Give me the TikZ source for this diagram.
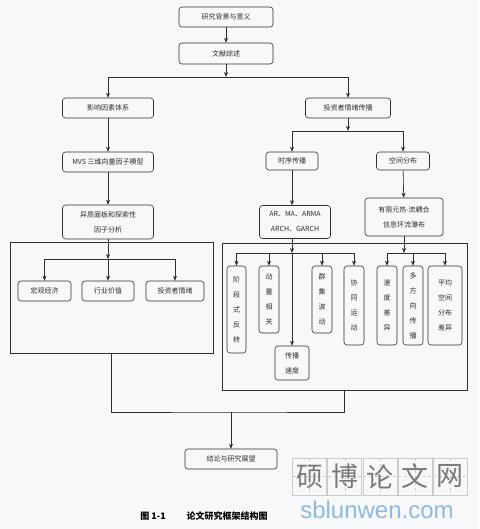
\documentclass[tikz,border=0pt]{standalone}
\usepackage{fontspec}
\setmainfont{Noto Sans CJK SC}
\newfontfamily\latinsans{Liberation Sans}
\usetikzlibrary{arrows.meta, calc}
\definecolor{ink}{HTML}{2E2E2E}
\definecolor{paper}{HTML}{F6F8F9}
\definecolor{markgrey}{HTML}{7A7A7A}
\definecolor{markblue}{HTML}{8CB9E6}
\definecolor{gridgrey}{HTML}{C9CCCE}

\begin{document}
\begin{tikzpicture}[x=1pt, y=-1pt,
  box/.style={draw=ink, line width=0.6pt, rounded corners=3pt, inner sep=0pt, align=center, text=ink, font=\fontsize{7}{15}\selectfont},
  frame/.style={draw=ink, line width=0.6pt, inner sep=0pt},
  arr/.style={draw=ink, line width=0.6pt, -{Stealth[length=5pt, width=4pt]}},
  link/.style={draw=ink, line width=0.6pt}]
  % page
  \fill[paper] (0,0) rectangle (479,529);

  % main column
  \node[box, minimum width=94, minimum height=20] (intro) at (226,17) {研究背景与意义};
  \node[box, minimum width=94, minimum height=21] (review) at (226,53.5) {文献综述};
  \node[box, minimum width=91, minimum height=20] (factors) at (108,108) {影响因素体系};
  \node[box, minimum width=85, minimum height=20] (spread) at (348,108) {投资者情绪传播};
  \coordinate (jtop) at (226,77);
  \draw[arr] (intro) -- (review);
  \draw[arr] (review) -- (jtop);
  \draw[arr] (jtop) -| (factors);
  \draw[arr] (jtop) -| (spread);

  % left branch
  \node[box, minimum width=91, minimum height=20] (mvs) at (108,162) {MVS 三维向量因子模型};
  \node[box, minimum width=91, minimum height=34] (panel) at (108,222) {异质面板和探索性\\因子分析};
  \draw[arr] (factors) -- (mvs);
  \draw[arr] (mvs) -- (panel);
  \node[frame, minimum width=203, minimum height=111] (lframe) at (111.5,297.5) {};
  \node[box, minimum width=53, minimum height=20] (macro) at (44.5,291) {宏观经济};
  \node[box, minimum width=52, minimum height=20] (industry) at (108,291) {行业价值};
  \node[box, minimum width=58, minimum height=20] (mood) at (175,291) {投资者情绪};
  \coordinate (jleft) at (108,259);
  \draw[arr] (panel) -- (jleft);
  \draw[arr] (jleft) -| (macro);
  \draw[arr] (jleft) -- (industry);
  \draw[arr] (jleft) -| (mood);

  % right branch
  \coordinate (jright) at (348,131);
  \node[box, minimum width=52, minimum height=18] (timing) at (292,161) {时序传播};
  \node[box, minimum width=53, minimum height=18] (space) at (403,161) {空间分布};
  \draw[arr] (spread) -- (jright);
  \draw[arr] (jright) -| (timing);
  \draw[arr] (jright) -| (space);
  \node[box, minimum width=71, minimum height=33] (arma) at (295,222) {AR、MA、ARMA\\ARCH、GARCH};
  \node[box, minimum width=78, minimum height=38] (fem) at (404,217) {有限元热-流耦合\\信息环流瀑布};
  \draw[arr] (timing) -- (timing |- arma.north);
  \draw[arr] (space) -- (fem);

  \node[frame, minimum width=245, minimum height=147] (rframe) at (344.5,316.5) {};
  \node[box, minimum width=19, minimum height=87] (stage) at (236.5,309.5) {阶\\段\\式\\反\\转};
  \node[box, minimum width=20, minimum height=67] (momentum) at (269,299.5) {动\\量\\相\\关};
  \node[box, minimum width=20, minimum height=67] (cluster) at (322,299.5) {群\\集\\波\\动};
  \node[box, minimum width=20, minimum height=79] (comove) at (354,305.5) {协\\同\\运\\动};
  \node[box, minimum width=34, minimum height=34] (speed) at (292,363) {传播\\速度};
  \node[box, minimum width=20, minimum height=79] (gap) at (387,305.5) {速\\度\\差\\异};
  \node[box, minimum width=20, minimum height=79] (multi) at (413,305.5) {多\\方\\向\\传\\播};
  \node[box, minimum width=34, minimum height=79] (avg) at (445,305.5) {平均\\空间\\分布\\差异};
  \coordinate (jseq) at (292,253);
  \coordinate (jspace) at (404,253);
  \draw[arr] (arma.south -| jseq) -- (jseq);
  \draw[arr] (jseq) -- (speed);
  \foreach \n in {stage, momentum, cluster, comove}
    \draw[arr] (jseq) -| (\n);
  \draw[arr] (fem) -- (jspace);
  \foreach \n in {gap, multi, avg}
    \draw[arr] (jspace) -| (\n);

  % conclusion
  \node[box, minimum width=92, minimum height=20] (concl) at (231,459) {结论与研究展望};
  \coordinate (jend) at (231,412);
  \draw[link] (lframe.south) |- (jend) -| (rframe.south);
  \draw[arr] (jend) -- (concl);

  % caption
  \node[font=\fontsize{9}{9}\selectfont\bfseries, text=black] (caption) at (204,516) {图 1-1\hspace{2.3em}论文研究框架结构图};

  % watermark
  \foreach \ch [count=\i from 0] in {硕,博,论,文,网} {
    \coordinate (cell) at (309.5+\i*35.2,476.5);
    \draw[gridgrey, line width=0.5pt] ($(cell)+(-17,-18.5)$) rectangle ($(cell)+(17,18.5)$);
    \draw[gridgrey, dashed, line width=0.3pt] ($(cell)+(0,-18.5)$) -- ($(cell)+(0,18.5)$)
      ($(cell)+(-17,0)$) -- ($(cell)+(17,0)$);
    \node[text=markgrey, font=\fontsize{27}{27}\selectfont] (mark\i) at (cell) {\ch};
  }
  \node[text=markblue, font=\latinsans\fontsize{24}{24}\selectfont] (url) at (377,510) {sblunwen.com};
\end{tikzpicture}
\end{document}
